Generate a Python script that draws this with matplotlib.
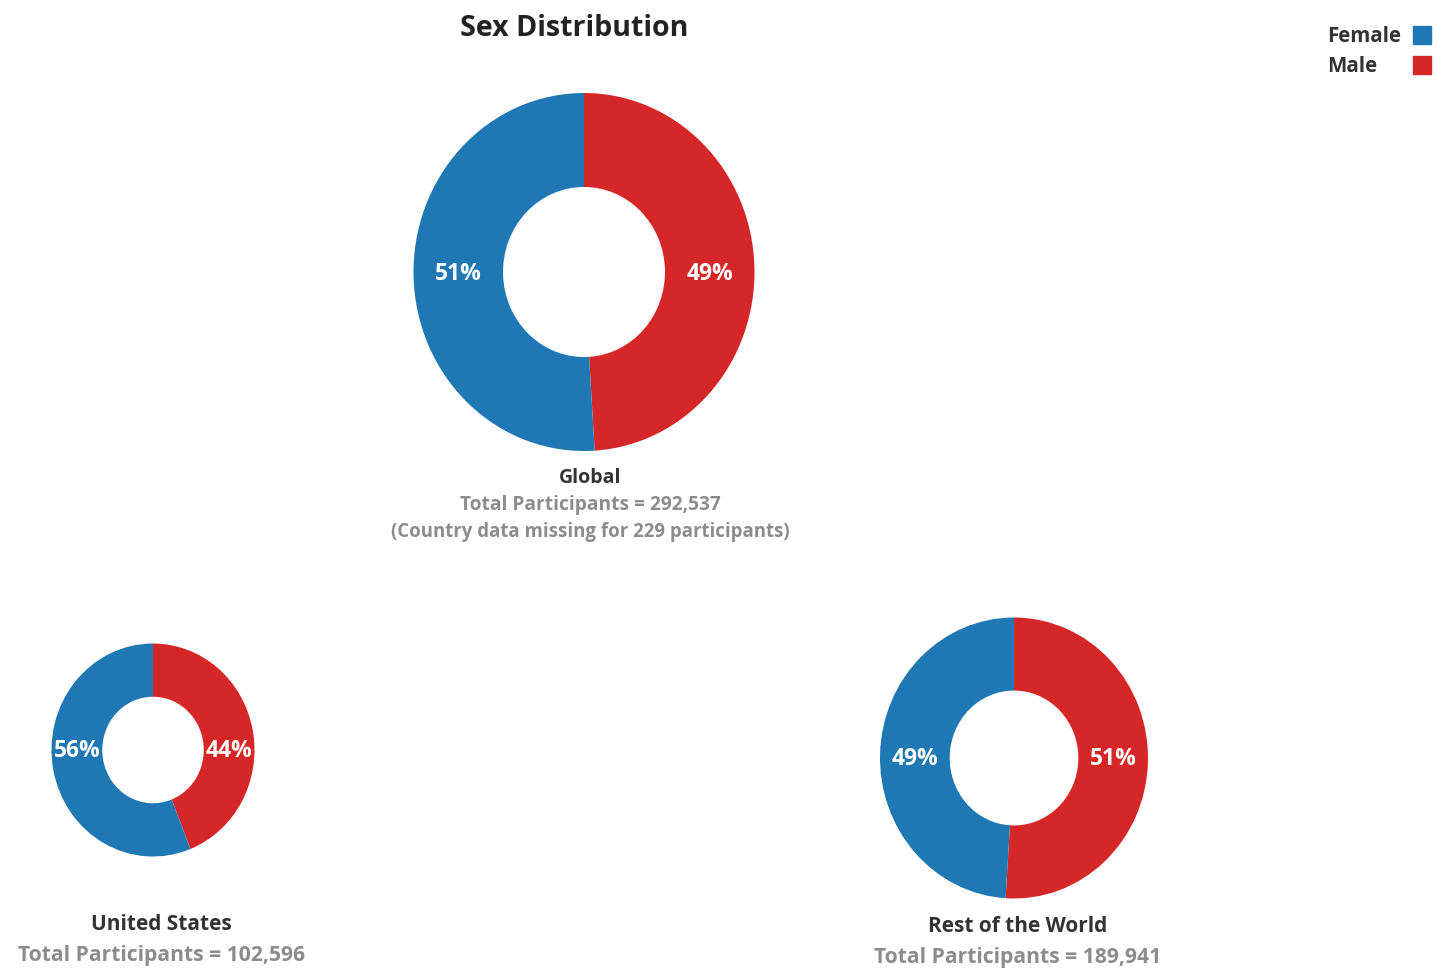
import matplotlib.pyplot as plt

plt.rcParams['font.family'] = ['Open Sans', 'DejaVu Sans']

# Data
sexes = ["Female", "Male"]
colors = ["#1f77b4", "#d62728"]
regions = ["Global", "United States", "Rest of the World"]
female_pct = [51, 56, 49]
male_pct = [49, 44, 51]
totals = ["292,537", "102,596", "189,941"]
notes = ["(Country data missing for 229 participants)", "", ""]

W, H = 1437, 968
fig = plt.figure(figsize=(W / 100, H / 100), dpi=100)

# layout in pixels: center x, center y, radius x, radius y, hole ratio,
# label x, label y, label gap, label size
layout = [
    (584, 272, 170.5, 179, 0.475, 590, 478, 27, 13.8),
    (153, 750, 101.5, 106.5, 0.50, 161, 925, 31, 15.2),
    (1014, 758, 134, 140.5, 0.48, 1018, 926, 31, 15.2),
]

for i, (cx, cy, rx, ry, hole, tx, ly, gap, fsz) in enumerate(layout):
    ax = fig.add_axes([(cx - rx) / W, (H - cy - ry) / H, 2 * rx / W, 2 * ry / H])
    ax.pie([male_pct[i], female_pct[i]], colors=[colors[1], colors[0]],
           startangle=90, counterclock=False, radius=1,
           wedgeprops=dict(width=1 - hole, linewidth=0))
    ax.set_aspect('auto')
    ax.set_xlim(-1, 1)
    ax.set_ylim(-1, 1)
    ax.axis('off')
    mid = (1 + hole) / 2
    ax.text(-mid, -0.01, f"{female_pct[i]}%", color="white", fontsize=16.5,
            fontweight="bold", ha="center", va="center")
    ax.text(mid, -0.01, f"{male_pct[i]}%", color="white", fontsize=16.5,
            fontweight="bold", ha="center", va="center")

    name_size = 14 if i == 0 else 15
    fig.text(tx / W, 1 - ly / H, regions[i], ha="center", va="center",
             fontsize=name_size, fontweight="bold", color="#333333")
    fig.text(tx / W, 1 - (ly + gap) / H, f"Total Participants = {totals[i]}",
             ha="center", va="center", fontsize=fsz, fontweight="bold", color="#8c8c8c")
    if notes[i]:
        fig.text(tx / W, 1 - (ly + 2 * gap) / H, notes[i], ha="center", va="center",
                 fontsize=13.4, fontweight="bold", color="#8c8c8c")

fig.text(574 / W, 1 - 28 / H, "Sex Distribution", ha="center", va="center",
         fontsize=20.6, fontweight="bold", color="#222222")

# Legend
for j, s in enumerate(sexes):
    y = 35 + j * 30
    fig.text(1327 / W, 1 - (y + 2) / H, s, ha="left", va="center",
             fontsize=14.8, fontweight="bold", color="#333333")
    fig.patches.append(plt.Rectangle((1413 / W, 1 - (y + 9) / H), 18 / W, 18 / H,
                                     transform=fig.transFigure, color=colors[j]))

fig.savefig("out.png", dpi=100)
